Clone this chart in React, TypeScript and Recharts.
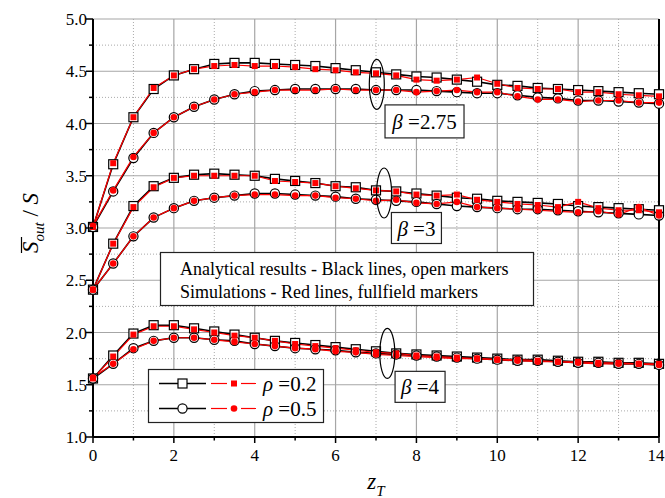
import React from 'react';
import { LineChart, Line, XAxis, YAxis, ReferenceLine, ReferenceDot } from 'recharts';

const FONT = '"Liberation Serif", Tinos, "Times New Roman", Times, "DejaVu Serif", "Noto Serif", serif';
const TXT: React.CSSProperties = { fontFamily: FONT };

// z_T values (x axis)
const zT = [0, 0.5, 1, 1.5, 2, 2.5, 3, 3.5, 4, 4.5, 5, 5.5, 6, 6.5, 7, 7.5, 8, 8.5, 9, 9.5, 10, 10.5, 11, 11.5, 12, 12.5, 13, 13.5, 14];

// beta = 2.75
const ana275rho02 = [3.01, 3.61, 4.06, 4.33, 4.46, 4.52, 4.57, 4.58, 4.58, 4.57, 4.56, 4.55, 4.53, 4.51, 4.49, 4.47, 4.45, 4.44, 4.42, 4.40, 4.37, 4.36, 4.34, 4.33, 4.32, 4.31, 4.30, 4.29, 4.28];
const sim275rho02 = [3.01, 3.62, 4.06, 4.34, 4.46, 4.52, 4.55, 4.56, 4.55, 4.55, 4.54, 4.52, 4.51, 4.49, 4.48, 4.46, 4.42, 4.41, 4.42, 4.44, 4.38, 4.34, 4.33, 4.33, 4.30, 4.30, 4.28, 4.27, 4.26];
const ana275rho05 = [3.01, 3.35, 3.67, 3.91, 4.06, 4.16, 4.23, 4.28, 4.31, 4.32, 4.33, 4.33, 4.33, 4.33, 4.32, 4.32, 4.32, 4.31, 4.30, 4.29, 4.29, 4.27, 4.25, 4.24, 4.22, 4.22, 4.21, 4.20, 4.19];
const sim275rho05 = [3.02, 3.36, 3.68, 3.91, 4.06, 4.16, 4.23, 4.28, 4.30, 4.32, 4.32, 4.32, 4.33, 4.32, 4.32, 4.32, 4.30, 4.31, 4.32, 4.30, 4.30, 4.26, 4.23, 4.23, 4.21, 4.22, 4.22, 4.20, 4.20];

// beta = 3
const ana3rho02 = [2.41, 2.85, 3.21, 3.40, 3.48, 3.51, 3.52, 3.51, 3.50, 3.47, 3.45, 3.43, 3.40, 3.39, 3.36, 3.35, 3.33, 3.31, 3.29, 3.28, 3.26, 3.25, 3.24, 3.23, 3.21, 3.20, 3.19, 3.18, 3.17];
const sim3rho02 = [2.41, 2.85, 3.20, 3.39, 3.48, 3.50, 3.50, 3.50, 3.50, 3.45, 3.44, 3.43, 3.40, 3.38, 3.36, 3.35, 3.32, 3.31, 3.32, 3.27, 3.25, 3.23, 3.22, 3.20, 3.25, 3.19, 3.17, 3.17, 3.15];
const ana3rho05 = [2.41, 2.66, 2.92, 3.10, 3.19, 3.26, 3.29, 3.31, 3.33, 3.33, 3.32, 3.31, 3.30, 3.28, 3.27, 3.26, 3.25, 3.23, 3.21, 3.20, 3.19, 3.18, 3.18, 3.17, 3.16, 3.15, 3.14, 3.13, 3.12];
const sim3rho05 = [2.41, 2.66, 2.92, 3.10, 3.19, 3.26, 3.29, 3.31, 3.32, 3.32, 3.31, 3.31, 3.29, 3.28, 3.26, 3.27, 3.24, 3.23, 3.25, 3.20, 3.19, 3.18, 3.17, 3.16, 3.15, 3.16, 3.13, 3.20, 3.12];

// beta = 4
const ana4rho02 = [1.56, 1.78, 1.99, 2.07, 2.07, 2.04, 2.01, 1.98, 1.95, 1.92, 1.90, 1.88, 1.86, 1.84, 1.82, 1.80, 1.79, 1.78, 1.77, 1.76, 1.75, 1.74, 1.74, 1.73, 1.72, 1.72, 1.71, 1.71, 1.70];
const sim4rho02 = [1.56, 1.77, 1.98, 2.06, 2.06, 2.03, 2.00, 1.97, 1.95, 1.92, 1.89, 1.87, 1.85, 1.83, 1.81, 1.80, 1.78, 1.77, 1.76, 1.75, 1.74, 1.74, 1.73, 1.72, 1.72, 1.71, 1.71, 1.70, 1.70];
const ana4rho05 = [1.56, 1.70, 1.85, 1.92, 1.95, 1.95, 1.93, 1.92, 1.89, 1.87, 1.85, 1.84, 1.83, 1.81, 1.80, 1.79, 1.78, 1.77, 1.76, 1.75, 1.74, 1.73, 1.73, 1.72, 1.71, 1.71, 1.70, 1.70, 1.69];
const sim4rho05 = [1.57, 1.70, 1.84, 1.92, 1.95, 1.95, 1.93, 1.91, 1.89, 1.87, 1.85, 1.84, 1.82, 1.81, 1.79, 1.78, 1.77, 1.76, 1.75, 1.75, 1.74, 1.73, 1.72, 1.72, 1.71, 1.70, 1.70, 1.70, 1.69];

// axis ticks (major ones get labels)
const xTicks = [0, 1, 2, 3, 4, 5, 6, 7, 8, 9, 10, 11, 12, 13, 14];
const yTicks = [1, 1.25, 1.5, 1.75, 2, 2.25, 2.5, 2.75, 3, 3.25, 3.5, 3.75, 4, 4.25, 4.5, 4.75, 5];
const xMajor = [0, 2, 4, 6, 8, 10, 12, 14];
const xMinor = [1, 3, 5, 7, 9, 11, 13];
const yMajor = [1, 1.5, 2, 2.5, 3, 3.5, 4, 4.5, 5];
const yMinor = [1.25, 1.75, 2.25, 2.75, 3.25, 3.75, 4.25, 4.75];

const betaLabels = ['2.75', '3', '4'];
const rhoLabels = ['0.2', '0.5'];

const data = zT.map((z, i) => ({
  z,
  a275_02: ana275rho02[i], s275_02: sim275rho02[i],
  a275_05: ana275rho05[i], s275_05: sim275rho05[i],
  a3_02: ana3rho02[i], s3_02: sim3rho02[i],
  a3_05: ana3rho05[i], s3_05: sim3rho05[i],
  a4_02: ana4rho02[i], s4_02: sim4rho02[i],
  a4_05: ana4rho05[i], s4_05: sim4rho05[i],
}));

const openSquare = (p: any) => (
  <rect key={`os-${p.index}`} x={p.cx - 4.5} y={p.cy - 4.5} width={9} height={9} fill="#fff" stroke="#000" strokeWidth={1.2} />
);
const openCircle = (p: any) => (
  <circle key={`oc-${p.index}`} cx={p.cx} cy={p.cy} r={4.6} fill="#fff" stroke="#000" strokeWidth={1.2} />
);
const redSquare = (p: any) => (
  <rect key={`rs-${p.index}`} x={p.cx - 3} y={p.cy - 3} width={6} height={6} fill="#ff0000" stroke="none" />
);
const redCircle = (p: any) => (
  <circle key={`rc-${p.index}`} cx={p.cx} cy={p.cy} r={3.3} fill="#ff0000" stroke="none" />
);

const XTick = (props: any) => {
  const { x, y, payload } = props;
  const v = payload.value as number;
  const major = v % 2 === 0;
  // keep the last label inside the window
  const tx = Math.min(x, 656);
  return (
    <g>
      <line x1={x} x2={x} y1={y} y2={y + (major ? 6 : 3.5)} stroke="#000" strokeWidth={1.5} />
      {major && (
        <text x={tx} y={y + 24} textAnchor="middle" style={TXT} fontSize={17} fill="#000">{v}</text>
      )}
    </g>
  );
};

const YTick = (props: any) => {
  const { x, y, payload } = props;
  const v = payload.value as number;
  const major = Math.round(v * 2) === v * 2;
  return (
    <g>
      <line x1={x} x2={x - (major ? 7 : 4)} y1={y} y2={y} stroke="#000" strokeWidth={1.5} />
      {major && (
        <text x={x - 6} y={y + 6} textAnchor="end" style={TXT} fontSize={17} fill="#000">{v.toFixed(1)}</text>
      )}
    </g>
  );
};

const YTitle = (props: any) => {
  const vb = props.viewBox;
  const cy = vb.y + vb.height / 2;
  return (
    <g transform={`translate(38, ${cy + 25}) rotate(-90)`}>
      <line x1={0} x2={16} y1={-16.5} y2={-16.5} stroke="#000" strokeWidth={1.2} />
      <text x={0} y={0} style={TXT} fontStyle="italic" fontSize={23} fill="#000">
        S<tspan fontSize={15} dy={6}>out</tspan>
        <tspan dy={-6} fontStyle="normal"> / </tspan>
        <tspan>S</tspan>
      </text>
    </g>
  );
};

const XTitle = (props: any) => {
  const vb = props.viewBox;
  return (
    <text x={vb.x + vb.width / 2} y={vb.y + 52} textAnchor="middle" style={TXT} fontStyle="italic" fontSize={23} fill="#000">
      z<tspan fontSize={15} dy={7}>T</tspan>
    </text>
  );
};

const ellipse = (p: any) => (
  <ellipse cx={p.cx} cy={p.cy} rx={7.5} ry={25} fill="none" stroke="#000" strokeWidth={1.2} />
);

const betaBox = (label: string, w: number, h: number) => (p: any) => (
  <g>
    <rect x={p.cx - w / 2} y={p.cy - h / 2} width={w} height={h} fill="#fff" stroke="#222" strokeWidth={1.2} />
    <text x={p.cx} y={p.cy + 7.5} textAnchor="middle" style={TXT} fontSize={21} fill="#000">
      <tspan fontStyle="italic">β</tspan> ={label}
    </text>
  </g>
);

const App: React.FC = () => {
  const W = 665;
  const H = 498;
  return (
    <div style={{ position: 'absolute', left: 0, top: 0, width: W, height: H, background: '#fff', fontFamily: FONT }}>
      <LineChart width={W} height={H} data={data} margin={{ top: 19, right: 6, bottom: 0, left: 0 }}>
        {xMinor.map((v) => (
          <ReferenceLine key={`xm${v}`} x={v} stroke="#aaa" strokeWidth={1} strokeDasharray="1 2" />
        ))}
        {yMinor.map((v) => (
          <ReferenceLine key={`ym${v}`} y={v} stroke="#aaa" strokeWidth={1} strokeDasharray="1 2" />
        ))}
        {xMajor.map((v) => (
          <ReferenceLine key={`xM${v}`} x={v} stroke="#a6a6a6" strokeWidth={1.2} />
        ))}
        {yMajor.map((v) => (
          <ReferenceLine key={`yM${v}`} y={v} stroke="#a6a6a6" strokeWidth={1.2} />
        ))}
        <ReferenceLine x={14} stroke="#000" strokeWidth={2} />

        <XAxis
          dataKey="z"
          type="number"
          domain={[0, 14]}
          ticks={xTicks}
          interval={0}
          height={61}
          tickSize={0}
          tickMargin={0}
          tickLine={false}
          axisLine={{ stroke: '#000', strokeWidth: 2 }}
          tick={<XTick />}
          label={<XTitle />}
        />
        <YAxis
          type="number"
          domain={[1, 5]}
          ticks={yTicks}
          interval={0}
          width={93}
          tickSize={0}
          tickMargin={0}
          tickLine={false}
          axisLine={{ stroke: '#000', strokeWidth: 2 }}
          tick={<YTick />}
          label={<YTitle />}
        />

        <Line dataKey="a275_02" stroke="#000" strokeWidth={1.6} dot={openSquare} activeDot={false} isAnimationActive={false} />
        <Line dataKey="a275_05" stroke="#000" strokeWidth={1.6} dot={openCircle} activeDot={false} isAnimationActive={false} />
        <Line dataKey="a3_02" stroke="#000" strokeWidth={1.6} dot={openSquare} activeDot={false} isAnimationActive={false} />
        <Line dataKey="a3_05" stroke="#000" strokeWidth={1.6} dot={openCircle} activeDot={false} isAnimationActive={false} />
        <Line dataKey="a4_02" stroke="#000" strokeWidth={1.6} dot={openSquare} activeDot={false} isAnimationActive={false} />
        <Line dataKey="a4_05" stroke="#000" strokeWidth={1.6} dot={openCircle} activeDot={false} isAnimationActive={false} />

        <Line dataKey="s275_02" stroke="#ff0000" strokeWidth={1.2} dot={redSquare} activeDot={false} isAnimationActive={false} />
        <Line dataKey="s275_05" stroke="#ff0000" strokeWidth={1.2} dot={redCircle} activeDot={false} isAnimationActive={false} />
        <Line dataKey="s3_02" stroke="#ff0000" strokeWidth={1.2} dot={redSquare} activeDot={false} isAnimationActive={false} />
        <Line dataKey="s3_05" stroke="#ff0000" strokeWidth={1.2} dot={redCircle} activeDot={false} isAnimationActive={false} />
        <Line dataKey="s4_02" stroke="#ff0000" strokeWidth={1.2} dot={redSquare} activeDot={false} isAnimationActive={false} />
        <Line dataKey="s4_05" stroke="#ff0000" strokeWidth={1.2} dot={redCircle} activeDot={false} isAnimationActive={false} />

        <ReferenceDot x={7.02} y={4.375} r={1} shape={ellipse} />
        <ReferenceDot x={7.2} y={3.335} r={1} shape={ellipse} />
        <ReferenceDot x={7.28} y={1.8} r={1} shape={ellipse} />

        <ReferenceDot x={8.2} y={4.02} r={1} shape={betaBox(betaLabels[0], 79, 33)} />
        <ReferenceDot x={8.0} y={3.0} r={1} shape={betaBox(betaLabels[1], 50, 31)} />
        <ReferenceDot x={8.09} y={1.48} r={1} shape={betaBox(betaLabels[2], 50, 31)} />
      </LineChart>

      <svg width={W} height={H} style={{ position: 'absolute', left: 0, top: 0, pointerEvents: 'none' }}>
        {/* note box */}
        <rect x={160.5} y={252.5} width={373} height={53} fill="#fff" stroke="#222" strokeWidth={1.2} />
        <text x={180} y={275} style={TXT} fontSize={18} fill="#000">Analytical results - Black lines, open markers</text>
        <text x={180} y={298} style={TXT} fontSize={18} fill="#000">Simulations - Red lines, fullfield markers</text>

        {/* legend */}
        <rect x={148.5} y={369.5} width={175} height={53} fill="#fff" stroke="#222" strokeWidth={1.2} />
        {rhoLabels.map((r, i) => {
          const cy = i === 0 ? 383.5 : 408.5;
          return (
            <g key={r}>
              <line x1={159} x2={206} y1={cy} y2={cy} stroke="#000" strokeWidth={1.6} />
              {i === 0 ? (
                <rect x={178} y={cy - 4.5} width={9} height={9} fill="#fff" stroke="#000" strokeWidth={1.2} />
              ) : (
                <circle cx={182.5} cy={cy} r={4.6} fill="#fff" stroke="#000" strokeWidth={1.2} />
              )}
              <line x1={211} x2={227} y1={cy} y2={cy} stroke="#ff0000" strokeWidth={1.2} />
              <line x1={241} x2={256} y1={cy} y2={cy} stroke="#ff0000" strokeWidth={1.2} />
              {i === 0 ? (
                <rect x={231} y={cy - 3} width={6} height={6} fill="#ff0000" />
              ) : (
                <circle cx={234} cy={cy} r={3.3} fill="#ff0000" />
              )}
              <text x={263} y={cy + 7} style={TXT} fontSize={21} fill="#000">
                <tspan fontStyle="italic">ρ</tspan> ={r}
              </text>
            </g>
          );
        })}
      </svg>
    </div>
  );
};

export default App;
